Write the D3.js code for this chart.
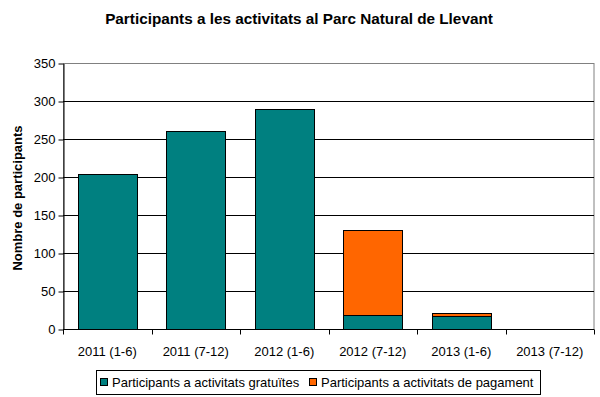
<!DOCTYPE html>
<html>
<head>
<meta charset="utf-8">
<script src="https://cdn.jsdelivr.net/npm/d3@7"></script>
<style>
  body { margin: 0; background: #fff; }
  svg { font-family: Arial, "Liberation Sans", sans-serif; }
</style>
</head>
<body>
<svg id="chart" width="600" height="397"></svg>
<script>
const FREE_COLOR = "#008080";
const PAID_COLOR = "#FF6600";

const periods = ["2011 (1-6)", "2011 (7-12)", "2012 (1-6)", "2012 (7-12)", "2013 (1-6)", "2013 (7-12)"];
const freeValues = [204, 261, 289, 18, 17, 0];
const paidValues = [0, 0, 0, 112, 4, 0];
const yTicks = [0, 50, 100, 150, 200, 250, 300, 350];
const seriesNames = ["Participants a activitats gratuïtes", "Participants a activitats de pagament"];

const margin = { top: 63, right: 6, bottom: 68, left: 63 };
const width = 600 - margin.left - margin.right;
const height = 397 - margin.top - margin.bottom;

const svg = d3.select("#chart");
const g = svg.append("g")
    .attr("transform", "translate(" + margin.left + "," + margin.top + ")");

const x = d3.scaleBand()
    .domain(periods)
    .range([0, width])
    .paddingInner(0.333)
    .paddingOuter(0.1665);

const xEdges = d3.scaleLinear()
    .domain([0, periods.length])
    .range([0, width]);

const y = d3.scaleLinear()
    .domain([0, 350])
    .range([height, 0]);

// plot frame (gray)
g.append("rect")
    .attr("x", 0.5)
    .attr("y", 0.5)
    .attr("width", width - 0.5)
    .attr("height", height)
    .attr("fill", "none")
    .attr("stroke", "#808080");

// gridlines
g.append("g")
    .selectAll("line")
    .data(yTicks.filter(t => t > 0 && t < 350))
    .join("line")
    .attr("x1", 0)
    .attr("x2", width)
    .attr("y1", d => Math.round(y(d)) + 0.5)
    .attr("y2", d => Math.round(y(d)) + 0.5)
    .attr("stroke", "#000");

// y axis
const yAxis = d3.axisLeft(y)
    .tickValues(yTicks)
    .tickSize(5)
    .tickSizeOuter(0)
    .tickPadding(3);

g.append("g")
    .attr("transform", "translate(0.5,0.5)")
    .call(yAxis)
    .call(a => a.select(".domain").attr("stroke", "#000"))
    .call(a => a.selectAll("text").attr("font-size", 13).attr("fill", "#000"));

// x axis: ticks at category boundaries
const xAxisG = g.append("g")
    .attr("transform", "translate(0," + (height + 0.5) + ")");

xAxisG.append("line")
    .attr("x1", 0)
    .attr("x2", width)
    .attr("stroke", "#000");

xAxisG.selectAll("line.tick")
    .data(d3.range(periods.length + 1))
    .join("line")
    .attr("class", "tick")
    .attr("x1", d => Math.round(xEdges(d)) + 0.5)
    .attr("x2", d => Math.round(xEdges(d)) + 0.5)
    .attr("y1", 0)
    .attr("y2", 5)
    .attr("stroke", "#000");

xAxisG.selectAll("text")
    .data(periods)
    .join("text")
    .attr("x", d => x(d) + x.bandwidth() / 2)
    .attr("y", 26)
    .attr("text-anchor", "middle")
    .attr("font-size", 13)
    .text(d => d);

// stacked bars
const bars = g.append("g");
periods.forEach((p, i) => {
    if (freeValues[i] > 0) {
        bars.append("rect")
            .attr("x", Math.round(x(p)) + 0.5)
            .attr("y", Math.round(y(freeValues[i])) + 0.5)
            .attr("width", Math.round(x.bandwidth()))
            .attr("height", Math.round(y(0)) - Math.round(y(freeValues[i])))
            .attr("fill", FREE_COLOR)
            .attr("stroke", "#000");
    }
    if (paidValues[i] > 0) {
        const top = freeValues[i] + paidValues[i];
        bars.append("rect")
            .attr("x", Math.round(x(p)) + 0.5)
            .attr("y", Math.round(y(top)) + 0.5)
            .attr("width", Math.round(x.bandwidth()))
            .attr("height", Math.round(y(freeValues[i])) - Math.round(y(top)))
            .attr("fill", PAID_COLOR)
            .attr("stroke", "#000");
    }
});

// y axis title
svg.append("text")
    .attr("transform", "translate(22," + (margin.top + height / 2 + 2) + ") rotate(-90)")
    .attr("text-anchor", "middle")
    .attr("font-size", 13)
    .attr("font-weight", "bold")
    .text("Nombre de participants");

// title
svg.append("text")
    .attr("x", 299)
    .attr("y", 24)
    .attr("text-anchor", "middle")
    .attr("font-size", 15.3)
    .attr("font-weight", "bold")
    .text("Participants a les activitats al Parc Natural de Llevant");

// legend
const legend = svg.append("g");
legend.append("rect")
    .attr("x", 96.5)
    .attr("y", 370.5)
    .attr("width", 444)
    .attr("height", 24)
    .attr("fill", "#fff")
    .attr("stroke", "#000");

const legendX = [100, 309];
[FREE_COLOR, PAID_COLOR].forEach((c, i) => {
    legend.append("rect")
        .attr("x", legendX[i] + 0.5)
        .attr("y", 378.5)
        .attr("width", 7)
        .attr("height", 7)
        .attr("fill", c)
        .attr("stroke", "#000");
    legend.append("text")
        .attr("x", legendX[i] + 12)
        .attr("y", 387)
        .attr("font-size", 13)
        .text(seriesNames[i]);
});
</script>
</body>
</html>
